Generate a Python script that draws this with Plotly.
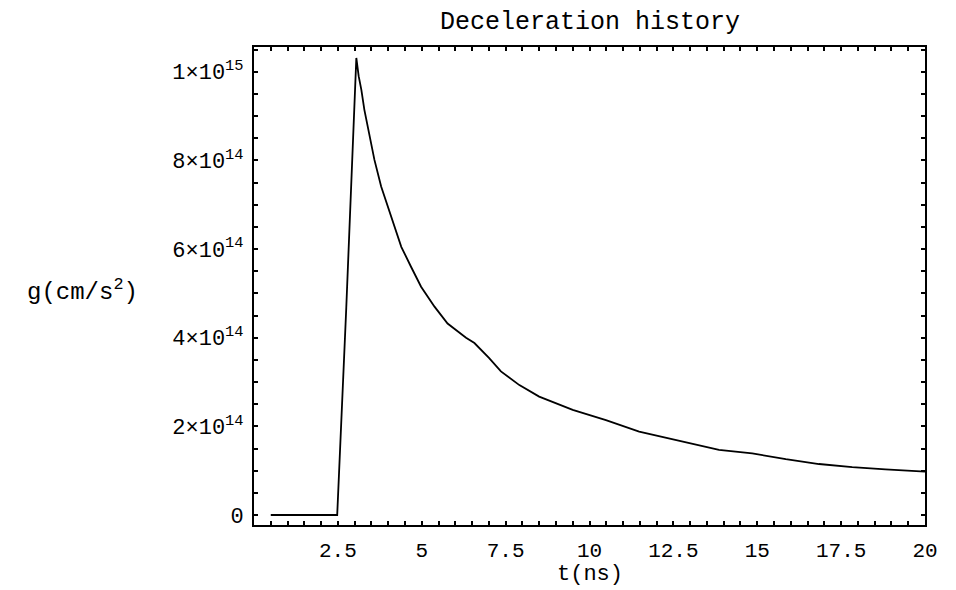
import plotly.graph_objects as go

# Deceleration history: time in ns, deceleration g in cm/s^2
t_ns = [0.5, 2.48, 2.75, 3.05, 3.12, 3.20, 3.29, 3.44, 3.59, 3.79, 3.99, 4.19,
        4.39, 4.68, 4.98, 5.38, 5.77, 6.32, 6.57, 7.01, 7.36, 7.91, 8.5, 9.5,
        10.49, 11.48, 12.87, 13.86, 14.85, 15.85, 16.84, 17.83, 18.82, 20.0]
g_cms2 = [0.0, 0.0, 0.467e15, 1.031e15, 0.990e15, 0.959e15, 0.914e15, 0.853e15,
          0.801e15, 0.741e15, 0.695e15, 0.650e15, 0.605e15, 0.560e15, 0.515e15,
          0.470e15, 0.432e15, 0.400e15, 0.388e15, 0.354e15, 0.324e15, 0.293e15,
          0.267e15, 0.237e15, 0.214e15, 0.188e15, 0.164e15, 0.147e15, 0.139e15,
          0.126e15, 0.115e15, 0.108e15, 0.103e15, 0.098e15]

x_ticks = [2.5, 5, 7.5, 10, 12.5, 15, 17.5, 20]
x_tick_labels = ["2.5", "5", "7.5", "10", "12.5", "15", "17.5", "20"]
y_ticks = [0, 2e14, 4e14, 6e14, 8e14, 1e15]
y_tick_labels = ["0", "2×10<sup>14</sup>", "4×10<sup>14</sup>", "6×10<sup>14</sup>",
                 "8×10<sup>14</sup>", "1×10<sup>15</sup>"]

FONT = "Liberation Mono, Courier New, monospace"

fig = go.Figure(
    go.Scatter(x=t_ns, y=g_cms2, mode="lines",
               line=dict(color="black", width=1.8), hoverinfo="skip")
)

axis_common = dict(
    showline=True, linecolor="black", linewidth=2, mirror="ticks",
    ticks="inside", ticklen=4, tickwidth=1.5, tickcolor="black",
    showgrid=False, zeroline=False,
)

fig.update_layout(
    width=956, height=590,
    margin=dict(l=254, r=31, t=47, b=65),
    paper_bgcolor="white", plot_bgcolor="white",
    showlegend=False,
    xaxis=dict(
        range=[0, 20], tickmode="array", tickvals=x_ticks, ticktext=x_tick_labels,
        ticklabelstandoff=5,
        tickfont=dict(family=FONT, size=21, color="black"),
        minor=dict(dtick=0.5, tick0=0, ticks="inside", ticklen=4,
                   tickwidth=1.5, tickcolor="black", showgrid=False),
        **axis_common,
    ),
    yaxis=dict(
        range=[-0.02256e15, 1.0557e15], tickmode="array", tickvals=y_ticks,
        ticktext=y_tick_labels, ticklabelstandoff=4,
        tickfont=dict(family=FONT, size=22, color="black"),
        minor=dict(dtick=5e13, tick0=0, ticks="inside", ticklen=4,
                   tickwidth=1.5, tickcolor="black", showgrid=False),
        **axis_common,
    ),
    annotations=[
        dict(text="Deceleration history", xref="paper", yref="paper",
             x=0.5, y=1.052, xanchor="center", yanchor="middle", showarrow=False,
             font=dict(family=FONT, size=25, color="black")),
        dict(text="t(ns)", xref="paper", yref="paper",
             x=0.5, y=-0.104, xanchor="center", yanchor="middle", showarrow=False,
             font=dict(family=FONT, size=22, color="black")),
        dict(text="g(cm/s<sup>2</sup>)", xref="paper", yref="paper",
             x=-0.256, y=0.49, xanchor="center", yanchor="middle", showarrow=False,
             font=dict(family=FONT, size=24, color="black")),
    ],
)

fig.write_html("out.html")
